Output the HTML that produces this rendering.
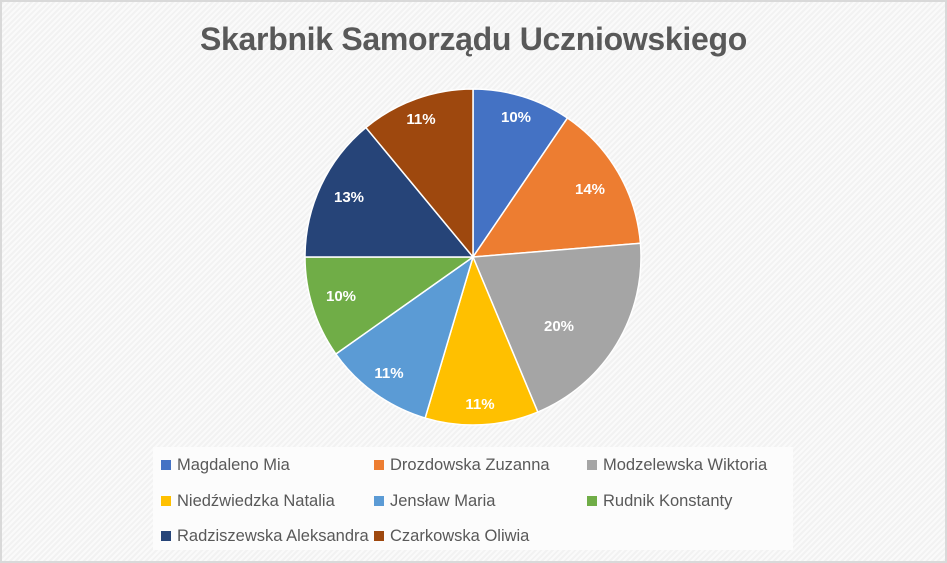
<!DOCTYPE html>
<html><head><meta charset="utf-8"><style>
body{margin:0;}
#c{position:relative;width:943px;height:559px;border:2px solid #d9d9d9;background:#f6f6f6 repeating-linear-gradient(135deg,#f2f2f2 0 2px,#fafafa 2px 4px);overflow:hidden;font-family:"Liberation Sans",sans-serif;}
#t{position:absolute;left:0;width:943px;top:19px;text-align:center;font-size:32px;font-weight:bold;color:#595959;letter-spacing:-0.3px;}
#lg{position:absolute;left:151px;top:445px;width:640px;height:103px;background:#fcfcfc;}
.it{position:absolute;font-size:16.5px;color:#595959;white-space:nowrap;}
.it i{display:inline-block;width:10px;height:10px;margin-right:6px;vertical-align:0px;}
</style></head><body>
<div id="c">
<div id="t">Skarbnik Samorządu Uczniowskiego</div>
<svg id="s" width="943" height="559" style="position:absolute;left:0;top:0"></svg>
<div id="lg">
<div class="it" style="left:8px;top:9px"><i style="background:#4472C4"></i>Magdaleno Mia</div>
<div class="it" style="left:221px;top:9px"><i style="background:#ED7D31"></i>Drozdowska Zuzanna</div>
<div class="it" style="left:434px;top:9px"><i style="background:#A5A5A5"></i>Modzelewska Wiktoria</div>
<div class="it" style="left:8px;top:45px"><i style="background:#FFC000"></i>Niedźwiedzka Natalia</div>
<div class="it" style="left:221px;top:45px"><i style="background:#5B9BD5"></i>Jensław Maria</div>
<div class="it" style="left:434px;top:45px"><i style="background:#70AD47"></i>Rudnik Konstanty</div>
<div class="it" style="left:8px;top:80px"><i style="background:#264478"></i>Radziszewska Aleksandra</div>
<div class="it" style="left:221px;top:80px"><i style="background:#9E480E"></i>Czarkowska Oliwia</div>
</div>
</div>
<script>
var cx=471,cy=255,r=168;
var cum=[0,9.5,23.7,43.7,54.6,65.2,75,89,100];
var col=["#4472C4","#ED7D31","#A5A5A5","#FFC000","#5B9BD5","#70AD47","#264478","#9E480E"];
var lab=["10%","14%","20%","11%","11%","10%","13%","11%"];
var pos=[[516,118],[590,190],[559,327],[480,405],[389,374],[341,297],[349,198],[421,120]];
var h="";
function pt(p){var a=p/100*2*Math.PI;return [cx+r*Math.sin(a),cy-r*Math.cos(a)];}
for(var i=0;i<8;i++){var a=pt(cum[i]),b=pt(cum[i+1]);var lg=(cum[i+1]-cum[i])>50?1:0;
h+='<path d="M'+cx+','+cy+'L'+a[0]+','+a[1]+'A'+r+','+r+' 0 '+lg+' 1 '+b[0]+','+b[1]+'Z" fill="'+col[i]+'" stroke="#fff" stroke-width="1.5"/>';}
for(var i=0;i<8;i++){h+='<text x="'+(pos[i][0]-2)+'" y="'+(pos[i][1]+2)+'" text-anchor="middle" font-family="Liberation Sans" font-weight="bold" font-size="15" fill="#fff">'+lab[i]+'</text>';}
document.getElementById("s").innerHTML=h;
</script>
</body></html>
